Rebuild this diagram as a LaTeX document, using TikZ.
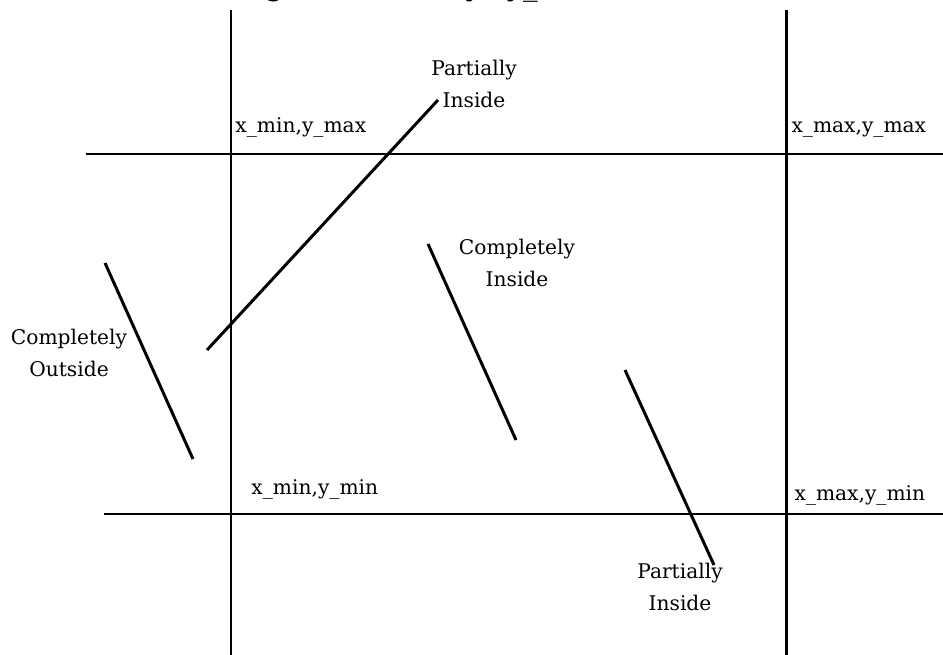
\documentclass[tikz,border=0pt]{standalone}
\usepackage{fontspec}
\setmainfont{DejaVu Serif}
\begin{document}
\begin{tikzpicture}[x=0.02cm, y=-0.02cm, line width=1.7pt,
    lbl/.style={inner sep=0pt, font=\fontsize{11.5}{18}\selectfont, align=center}]
    % 0. Ränder des Bildes
    \useasboundingbox (0,0) rectangle (943,655);
    \clip (0,0) rectangle (943,655);

    % 1. Überschrift (oben abgeschnitten)
    \node[anchor=base east, inner sep=0pt, font=\fontsize{16.6}{20}\selectfont] (title)
        at (612,-4) {Line resting in window (y>y\_max)};

    % 2. Fenstergrenzen
    \draw (231,10) -- (231,655);
    \draw (786,10) -- (786,655);
    \draw (86,154) -- (943,154);
    \draw (104,514) -- (943,514);

    % 3. Liniensegmente
    \draw (105,263) -- (193,459);
    \draw (207,350) -- (438,100);
    \draw (428,244) -- (516,440);
    \draw (625,370) -- (714,565);

    % 4. Eckpunkte
    \node[lbl, anchor=base west] (tl) at (234,133) {x\_min,y\_max};
    \node[lbl, anchor=base west] (tr) at (790,133) {x\_max,y\_max};
    \node[lbl, anchor=base west] (bl) at (250,494) {x\_min,y\_min};
    \node[lbl, anchor=base west] (br) at (793,500) {x\_max,y\_min};

    % 5. Beschriftungen der Segmente
    \node[lbl] (pin1) at (474,84) {Partially\\Inside};
    \node[lbl] (cin) at (517,263) {Completely\\Inside};
    \node[lbl] (cout) at (69,353) {Completely\\Outside};
    \node[lbl] (pin2) at (680,587) {Partially\\Inside};
\end{tikzpicture}
\end{document}
